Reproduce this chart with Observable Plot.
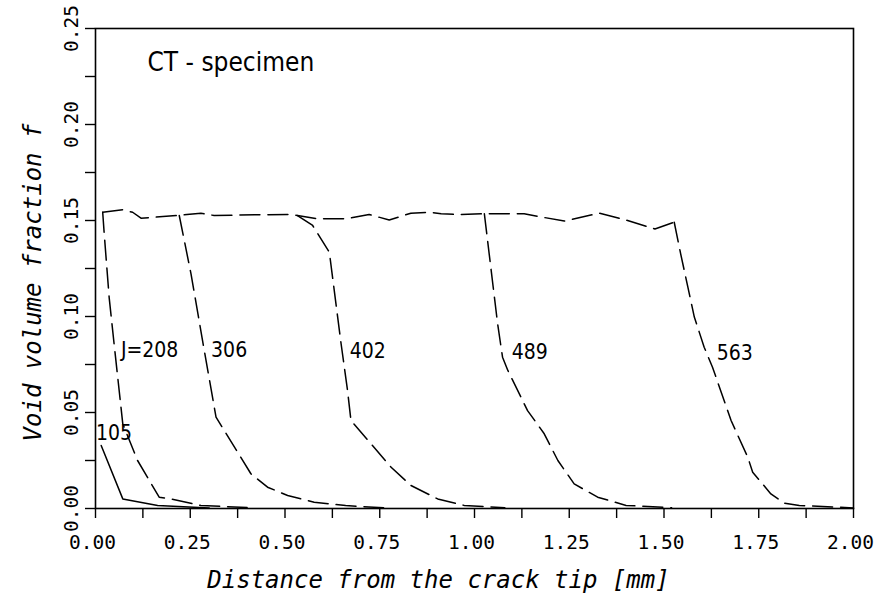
<!DOCTYPE html>
<html><head><meta charset="utf-8">
<script src="https://cdn.jsdelivr.net/npm/d3@7"></script>
<script src="https://cdn.jsdelivr.net/npm/@observablehq/plot@0.6"></script>
<style>body{margin:0;background:#fff}</style>
</head><body><div id="chart"></div>
<script>
// Shared upper plateau (dashed envelope from the crack tip)
const plateauX = [0.019, 0.072, 0.098, 0.120, 0.217, 0.278, 0.313, 0.42, 0.516, 0.533, 0.586, 0.661, 0.722, 0.775, 0.832, 0.881, 0.912, 0.956, 1.026, 1.131, 1.180, 1.237, 1.329, 1.404, 1.476, 1.527];
const plateauY = [0.1543, 0.1556, 0.1543, 0.1512, 0.1526, 0.1538, 0.1526, 0.1530, 0.1531, 0.1526, 0.1509, 0.1509, 0.1531, 0.1503, 0.1538, 0.1543, 0.1535, 0.1531, 0.1535, 0.1535, 0.1517, 0.1497, 0.1538, 0.1500, 0.1456, 0.1491];
// Descending branches for each J value
const j105X = [0.015, 0.072, 0.164, 0.30];
const j105Y = [0.0328, 0.0050, 0.0016, 0.0003];
const j208X = [0.019, 0.023, 0.036, 0.050, 0.072, 0.111, 0.168, 0.199, 0.278, 0.40];
const j208Y = [0.1543, 0.1431, 0.110, 0.084, 0.0441, 0.025, 0.0059, 0.0050, 0.0016, 0.0005];
const j306X = [0.221, 0.252, 0.287, 0.318, 0.410, 0.454, 0.507, 0.577, 0.66, 0.76];
const j306Y = [0.1526, 0.1222, 0.0823, 0.0476, 0.0181, 0.0111, 0.0068, 0.0033, 0.0015, 0.0004];
const j402X = [0.533, 0.573, 0.617, 0.630, 0.648, 0.665, 0.674, 0.727, 0.780, 0.832, 0.903, 0.973, 1.08];
const j402Y = [0.1526, 0.1474, 0.1335, 0.1135, 0.0858, 0.0615, 0.0458, 0.0337, 0.0215, 0.0120, 0.0050, 0.0016, 0.0004];
const j489X = [1.026, 1.044, 1.061, 1.074, 1.088, 1.140, 1.184, 1.220, 1.263, 1.325, 1.400, 1.52];
const j489Y = [0.1535, 0.1240, 0.0962, 0.0788, 0.0719, 0.0510, 0.0389, 0.0250, 0.0128, 0.0059, 0.0016, 0.0004];
const j563X = [1.527, 1.544, 1.563, 1.580, 1.606, 1.628, 1.677, 1.721, 1.734, 1.782, 1.817, 1.857, 2.0];
const j563Y = [0.1491, 0.1326, 0.1153, 0.0997, 0.0840, 0.0736, 0.0458, 0.0267, 0.0189, 0.0076, 0.0028, 0.0016, 0.0003];

// Curve labels
const labelText = ["105", "J=208", "306", "402", "489", "563"];
const labelX = [0.001, 0.067, 0.305, 0.671, 1.098, 1.639];
const labelY = [0.039, 0.0826, 0.0826, 0.0818, 0.0814, 0.0806];

// Ticks
const xMinorTicks = [0, 0.125, 0.25, 0.375, 0.5, 0.625, 0.75, 0.875, 1, 1.125, 1.25, 1.375, 1.5, 1.625, 1.75, 1.875, 2];
const xTickLabels = [0, 0.25, 0.5, 0.75, 1, 1.25, 1.5, 1.75, 2];
const yMinorTicks = [0, 0.025, 0.05, 0.075, 0.1, 0.125, 0.15, 0.175, 0.2, 0.225, 0.25];
const yTickLabels = [0, 0.05, 0.1, 0.15, 0.2, 0.25];

const specimenTitle = "CT - specimen";
const xTitle = "Distance from the crack tip [mm]";
const yTitle = "Void volume fraction f";

const curves = [
  {name: "plateau", xs: plateauX, ys: plateauY, dashed: true},
  {name: "105", xs: j105X, ys: j105Y, dashed: false},
  {name: "208", xs: j208X, ys: j208Y, dashed: true},
  {name: "306", xs: j306X, ys: j306Y, dashed: true},
  {name: "402", xs: j402X, ys: j402Y, dashed: true},
  {name: "489", xs: j489X, ys: j489Y, dashed: true},
  {name: "563", xs: j563X, ys: j563Y, dashed: true}
];
const rows = curves.flatMap(c => c.xs.map((x, i) => ({series: c.name, x, y: c.ys[i], dashed: c.dashed})));
const labels = labelText.map((t, i) => ({t, x: labelX[i], y: labelY[i]}));

const mono = "'DejaVu Sans Mono', monospace";
const cond = "'DejaVu Sans Condensed', 'Liberation Sans Narrow', 'DejaVu Sans', sans-serif";

const chart = Plot.plot({
  width: 891, height: 598,
  marginLeft: 95, marginRight: 38, marginTop: 28, marginBottom: 90,
  x: {domain: [0, 2]},
  y: {domain: [0, 0.25]},
  style: {background: "white", color: "black"},
  marks: [
    Plot.frame({stroke: "black", strokeWidth: 1.6}),
    Plot.axisX({ticks: xMinorTicks, tickSize: 10, tickFormat: () => "", label: null, strokeWidth: 1.4}),
    Plot.axisX({ticks: xTickLabels, tickSize: 0, tickPadding: 27, tickFormat: d => d.toFixed(2), label: null, fontSize: 19.5, fontFamily: mono, dx: -3}),
    Plot.axisY({ticks: yMinorTicks, tickSize: 10, tickFormat: () => "", label: null, strokeWidth: 1.4}),
    Plot.axisY({ticks: yTickLabels, tickSize: 0, tickRotate: -90, tickPadding: 18, tickFormat: d => d.toFixed(2), label: null, fontSize: 19.5, fontFamily: mono}),
    Plot.line(rows.filter(d => d.dashed), {x: "x", y: "y", z: "series", stroke: "black", strokeWidth: 1.5, strokeDasharray: "20,8", curve: "linear"}),
    Plot.line(rows.filter(d => !d.dashed), {x: "x", y: "y", z: "series", stroke: "black", strokeWidth: 1.5}),
    Plot.text(labels, {x: "x", y: "y", text: "t", textAnchor: "start", lineAnchor: "middle", fontSize: 21, fontFamily: cond, fill: "black"}),
    Plot.text([specimenTitle], {text: d => d, frameAnchor: "top-left", dx: 52, dy: 34, textAnchor: "start", lineAnchor: "middle", fontSize: 26, fontFamily: cond, fill: "black"}),
    Plot.text([xTitle], {text: d => d, frameAnchor: "bottom", dx: -36, dy: 72, textAnchor: "middle", lineAnchor: "middle", fontSize: 24, fontFamily: mono, fontStyle: "italic", fill: "black"}),
    Plot.text([yTitle], {text: d => d, frameAnchor: "left", rotate: -90, dx: -62, dy: 14, textAnchor: "middle", lineAnchor: "middle", fontSize: 24, fontFamily: mono, fontStyle: "italic", fill: "black"})
  ]
});
document.getElementById("chart").appendChild(chart);
</script>
</body></html>
